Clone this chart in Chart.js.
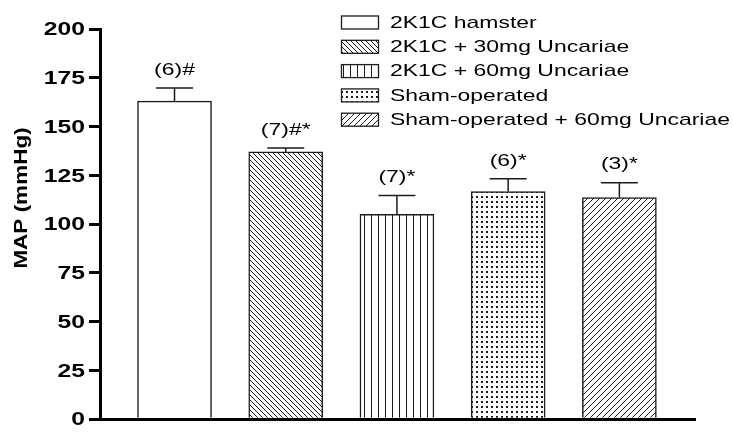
<!DOCTYPE html>
<html>
<head>
<meta charset="utf-8">
<script src="https://cdn.jsdelivr.net/npm/chart.js@4.4.1/dist/chart.umd.min.js"></script>
<style>
html,body{margin:0;padding:0;background:#ffffff;}
#wrap{width:733px;height:433px;}
</style>
</head>
<body>
<div id="wrap"><canvas id="c" width="733" height="433"></canvas></div>
<script>
// ---- data ----
const categories = ['2K1C hamster', '2K1C + 30mg Uncariae', '2K1C + 60mg Uncariae', 'Sham-operated', 'Sham-operated + 60mg Uncariae'];
const meanValues = [163, 137, 105, 116.7, 113.6];
const semValues = [6.7, 2, 9.6, 6.5, 7.6];
const annotations = ['(6)#', '(7)#*', '(7)*', '(6)*', '(3)*'];
const yTicks = [0, 25, 50, 75, 100, 125, 150, 175, 200];
const yTitle = 'MAP (mmHg)';
const fillKinds = ['none', 'back', 'vert', 'dots', 'fwd'];

const INK = '#1c1c1c';
function makeFill(kind) {
  if (kind === 'none') return '#ffffff';
  const t = document.createElement('canvas');
  let s = 6;
  if (kind === 'back') s = 5;
  if (kind === 'vert') s = 7;
  if (kind === 'dots') s = 5;
  if (kind === 'fwd') s = 6;
  t.width = s; t.height = s;
  const c = t.getContext('2d');
  c.fillStyle = '#ffffff';
  c.fillRect(0, 0, s, s);
  c.fillStyle = INK;
  c.strokeStyle = INK;
  c.lineWidth = 1;
  if (kind === 'back') {
    c.beginPath();
    for (const k of [-s, 0, s]) { c.moveTo(k, 0); c.lineTo(k + s, s); }
    c.stroke();
  } else if (kind === 'fwd') {
    c.beginPath();
    for (const k of [-s, 0, s]) { c.moveTo(k, s); c.lineTo(k + s, 0); }
    c.stroke();
  } else if (kind === 'vert') {
    c.fillRect(0, 0, 1, s);
  } else if (kind === 'dots') {
    c.fillRect(1, 1, 2, 2);
  }
  return document.createElement('canvas').getContext('2d').createPattern(t, 'repeat');
}
const fills = fillKinds.map(makeFill);

function stretchedText(ctx, text, x, y, font, sx, align) {
  ctx.save();
  ctx.translate(x, y);
  ctx.scale(sx, 1);
  ctx.font = font;
  ctx.textAlign = align;
  ctx.textBaseline = 'middle';
  ctx.fillStyle = '#000';
  ctx.fillText(text, 0, 0);
  ctx.restore();
}

const overlay = {
  id: 'overlay',
  afterDatasetsDraw(chart) {
    const ctx = chart.ctx, xs = chart.scales.x, ys = chart.scales.y;
    ctx.save();
    // y tick labels (horizontally widened, as in the reference)
    yTicks.forEach(v => {
      stretchedText(ctx, String(v), 85, ys.getPixelForValue(v) + 1, 'bold 19px "Liberation Sans", Arial, sans-serif', 1.3, 'right');
    });
    meanValues.forEach((v, i) => {
      const cx = xs.getPixelForValue(i);
      const yTop = ys.getPixelForValue(v);
      const yErr = ys.getPixelForValue(v + semValues[i]);
      ctx.strokeStyle = INK;
      ctx.lineWidth = 1.5;
      ctx.beginPath();
      ctx.moveTo(cx, yTop); ctx.lineTo(cx, yErr);
      ctx.moveTo(cx - 18.5, yErr); ctx.lineTo(cx + 18.5, yErr);
      ctx.stroke();
      stretchedText(ctx, annotations[i], cx, yErr - 18, '17px "Liberation Sans", Arial, sans-serif', 1.35, 'center');
    });
    // legend
    categories.forEach((name, i) => {
      const by = 16 + i * 24.3;
      ctx.fillStyle = fills[i];
      ctx.fillRect(341.5, by, 37, 13);
      ctx.strokeStyle = INK;
      ctx.lineWidth = 1.3;
      ctx.strokeRect(341.5, by, 37, 13);
      stretchedText(ctx, name, 390, by + 7, '17px "Liberation Sans", Arial, sans-serif', 1.35, 'left');
    });
    // y title
    ctx.save();
    ctx.translate(22, 198);
    ctx.rotate(-Math.PI / 2);
    stretchedText(ctx, yTitle, 0, 0, 'bold 18px "Liberation Sans", Arial, sans-serif', 1.25, 'center');
    ctx.restore();
    ctx.restore();
  }
};

const datasets = categories.map((name, i) => ({
  label: name,
  data: [{ x: i, y: meanValues[i] }],
  backgroundColor: fills[i],
  borderColor: INK,
  borderWidth: 1.5,
  barThickness: 74,
  grouped: false
}));

new Chart(document.getElementById('c'), {
  type: 'bar',
  data: { datasets },
  options: {
    responsive: false,
    animation: false,
    devicePixelRatio: 1,
    layout: { padding: { left: 0, right: 38, top: 29, bottom: 8 } },
    plugins: { legend: { display: false }, tooltip: { enabled: false } },
    scales: {
      x: {
        type: 'linear', min: -0.67, max: 4.68, offset: false,
        grid: { display: false, offset: false },
        border: { display: true, width: 3, color: '#000' },
        ticks: { display: false },
        afterFit(s) { s.height = 0; }
      },
      y: {
        min: 0, max: 200,
        afterBuildTicks(s) { s.ticks = yTicks.map(v => ({ value: v })); },
        ticks: { color: 'rgba(0,0,0,0)', padding: 3, font: { family: '"Liberation Sans", Arial, sans-serif', size: 18, weight: 'bold' } },
        grid: { drawOnChartArea: false, drawTicks: true, tickLength: 11, color: '#000', lineWidth: 3 },
        border: { display: true, width: 3, color: '#000' },
        afterFit(s) { s.width = 100; }
      }
    }
  },
  plugins: [overlay]
});
</script>
</body>
</html>
